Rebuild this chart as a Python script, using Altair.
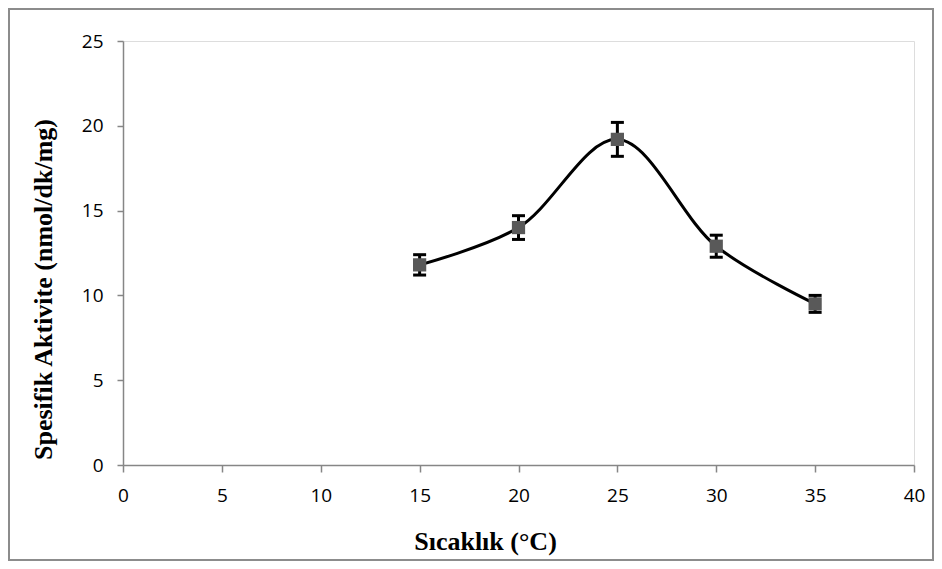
import altair as alt
import pandas as pd

temps = [15, 20, 25, 30, 35]
activity = [11.8, 14.0, 19.2, 12.9, 9.5]
errors = [0.6, 0.7, 1.0, 0.65, 0.5]

x_ticks = [0, 5, 10, 15, 20, 25, 30, 35, 40]
y_ticks = [0, 5, 10, 15, 20, 25]

df = pd.DataFrame({"t": temps, "a": activity, "e": errors})
df["lo"] = df["a"] - df["e"]
df["hi"] = df["a"] + df["e"]

W, H = 791, 424
AX = "#868686"

xs = alt.Scale(domain=[0, 40], nice=False, zero=False)
ys = alt.Scale(domain=[0, 25], nice=False)

x_axis = alt.Axis(
    values=x_ticks, title="Sıcaklık (°C)", grid=False, domain=True,
    domainColor=AX, domainWidth=1.5, tickColor=AX, tickWidth=1.5, tickSize=7,
    labelFont="Open Sans", labelFontSize=19, labelColor="black", labelPadding=14,
    titleFont="Liberation Serif", titleFontSize=26, titleFontWeight="bold",
    titleColor="black", titleX=362, titleY=76, titleBaseline="middle",
    titleAlign="center", labelFlush=False, labelOverlap=False, zindex=1,
)
y_axis = alt.Axis(
    values=y_ticks, title="Spesifik Aktivite (nmol/dk/mg)", grid=False, domain=True,
    domainColor=AX, domainWidth=1.5, tickColor=AX, tickWidth=1.5, tickSize=6,
    labelFont="Open Sans", labelFontSize=19, labelColor="black", labelPadding=14,
    titleFont="Liberation Serif", titleFontSize=26, titleFontWeight="bold",
    titleColor="black", titleX=-80, titleY=248, titleAngle=-90,
    titleBaseline="middle", titleAlign="center", labelFlush=False, zindex=1,
)

base = alt.Chart(df)

border = alt.Chart(alt.Data(values=[{"k": 1}])).mark_rect(
    fill="transparent", stroke="#8c8c8c", strokeWidth=2
).encode(
    x=alt.value(-114), x2=alt.value(810), y=alt.value(-32), y2=alt.value(519)
)

line = base.mark_line(interpolate="catmull-rom", color="black", strokeWidth=3).encode(
    x=alt.X("t:Q", scale=xs, axis=x_axis),
    y=alt.Y("a:Q", scale=ys, axis=y_axis),
)

stems = base.mark_rule(color="black", strokeWidth=3).encode(
    x=alt.X("t:Q", scale=xs), y=alt.Y("lo:Q", scale=ys), y2="hi:Q"
)
cap_lo = base.mark_tick(color="black", orient="horizontal", size=13, thickness=3, opacity=1).encode(
    x=alt.X("t:Q", scale=xs), y=alt.Y("lo:Q", scale=ys)
)
cap_hi = base.mark_tick(color="black", orient="horizontal", size=13, thickness=3, opacity=1).encode(
    x=alt.X("t:Q", scale=xs), y=alt.Y("hi:Q", scale=ys)
)
points = base.mark_square(size=175, color="#595959", opacity=1).encode(
    x=alt.X("t:Q", scale=xs), y=alt.Y("a:Q", scale=ys)
)

chart = alt.layer(border, line, stems, cap_lo, cap_hi, points).properties(
    width=W, height=H,
    autosize=alt.AutoSizeParams(type="none"),
    padding={"left": 115, "top": 33, "right": 20, "bottom": 96},
).configure_view(stroke="transparent", strokeWidth=0, strokeOpacity=0).configure(background="white")

chart.save("out.html", embed_options={"renderer": "svg", "actions": False})
